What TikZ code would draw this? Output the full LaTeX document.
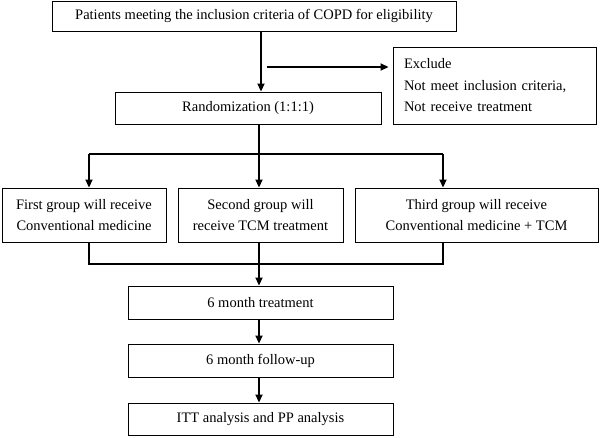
\documentclass[tikz,border=0pt]{standalone}
\usepackage{fontspec}
\setmainfont{Liberation Serif}
\usetikzlibrary{arrows.meta}

\begin{document}
\begin{tikzpicture}[x=1pt,y=-1pt,
  box/.style={draw,line width=0.9pt,inner sep=0pt,align=center,font=\fontsize{14.5}{21.5}\selectfont},
  link/.style={line width=1.8pt},
  arr/.style={link,-{Triangle[length=8pt,width=7pt]}}]
\useasboundingbox (0,0) rectangle (600,437);

\node[box,minimum width=404pt,minimum height=30pt] (top) at (254,16) {Patients meeting the inclusion criteria of COPD for eligibility};
\node[box,minimum width=266pt,minimum height=32pt] (rand) at (248,108) {Randomization (1:1:1)};
\node[box,minimum width=203pt,minimum height=77pt,align=left,text width=181pt] (excl) at (494.5,85.5) {Exclude\\Not meet inclusion criteria,\\Not receive treatment};
\node[box,minimum width=164pt,minimum height=54pt] (g1) at (84,215) {First group will receive\\Conventional medicine};
\node[box,minimum width=165pt,minimum height=54pt] (g2) at (260.5,215) {Second group will\\receive TCM treatment};
\node[box,minimum width=243pt,minimum height=54pt] (g3) at (476.5,215) {Third group will receive\\Conventional medicine + TCM};
\node[box,minimum width=265pt,minimum height=33pt] (treat) at (260.5,302.5) {6 month treatment};
\node[box,minimum width=265pt,minimum height=33pt] (follow) at (260.5,360.5) {6 month follow-up};
\node[box,minimum width=265pt,minimum height=32pt] (itt) at (260.5,419) {ITT analysis and PP analysis};

\coordinate (cut) at (261,67);
\coordinate (split) at (259,154);
\coordinate (left) at (89,154);
\coordinate (right) at (443,154);
\coordinate (merge) at (259,264);

\draw[arr] (top.south -| cut) -- (rand.north -| cut);
\draw[arr,shorten >=4pt] ([xshift=6pt]cut) -- (excl.west |- cut);
\draw[link] (rand.south -| split) -- (split);
\draw[link] (left) -- (right);
\draw[arr] (left) -- (left |- g1.north);
\draw[arr] (split) -- (split |- g2.north);
\draw[arr] (right) -- (right |- g3.north);
\draw[link] (left |- g1.south) -- (left |- merge) -- (right |- merge) -- (right |- g3.south);
\draw[link] (split |- g2.south) -- (merge);
\draw[arr] (merge) -- (treat.north -| merge);
\draw[arr] (treat.south -| merge) -- (follow.north -| merge);
\draw[arr] (follow.south -| merge) -- (itt.north -| merge);
\end{tikzpicture}
\end{document}
